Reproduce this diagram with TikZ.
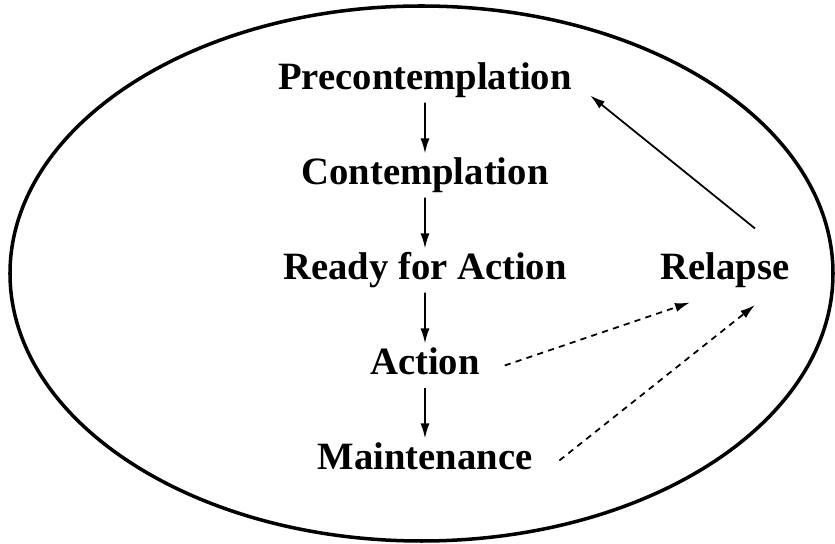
\documentclass[tikz,border=0pt]{standalone}
\usepackage{fontspec}
\setmainfont{Liberation Serif}
\usetikzlibrary{arrows.meta}
\tikzset{stage/.style={
        font=\bfseries\fontsize{22}{26}\selectfont,
        text height=0.56cm,
        text depth=0.18cm,
        inner sep=2pt,
        outer sep=0pt},
        %
        dashedge/.style={
            draw=black,
            line width=1pt,
            dash pattern=on 3.5pt off 3pt,
            -{Latex[length=0.3cm,width=0.18cm]}}
        }
\def\lvld{1.9}

\begin{document}
\begin{tikzpicture}[level distance=\lvld cm,
                edgedown/.style={edge from parent/.style={draw=black,line width=1pt,-{Latex[length=0.3cm,width=0.18cm]}}}
                ]
\useasboundingbox (0,0) rectangle (16.7,10.88);
\draw[line width=2pt] (8.43,5.41) ellipse (8.23cm and 5.35cm);

\node[stage] (P) at (8.5,9.27) {Precontemplation}
    [grow=down,edgedown]
    child {node[stage] (C) {Contemplation}
        child {node[stage] (R) {Ready for Action}
            child {node[stage] (A) {Action}
                child {node[stage] (M) {Maintenance}}
            }
        }
    };

\node[stage] (relapse) at ([xshift=6cm]R) {Relapse};

\draw[line width=1pt,-{Latex[length=0.3cm,width=0.18cm]}] ([xshift=0.6cm,yshift=0.4cm]relapse.north) -- ([xshift=0.3cm,yshift=-0.3cm]P.east);
\draw[dashedge] ([xshift=0.43cm]A.east) -- ([xshift=-0.7cm,yshift=-0.2cm]relapse.south);
\draw[dashedge] ([xshift=0.47cm]M.east) -- ([xshift=0.6cm,yshift=-0.25cm]relapse.south);
\end{tikzpicture}
\end{document}
